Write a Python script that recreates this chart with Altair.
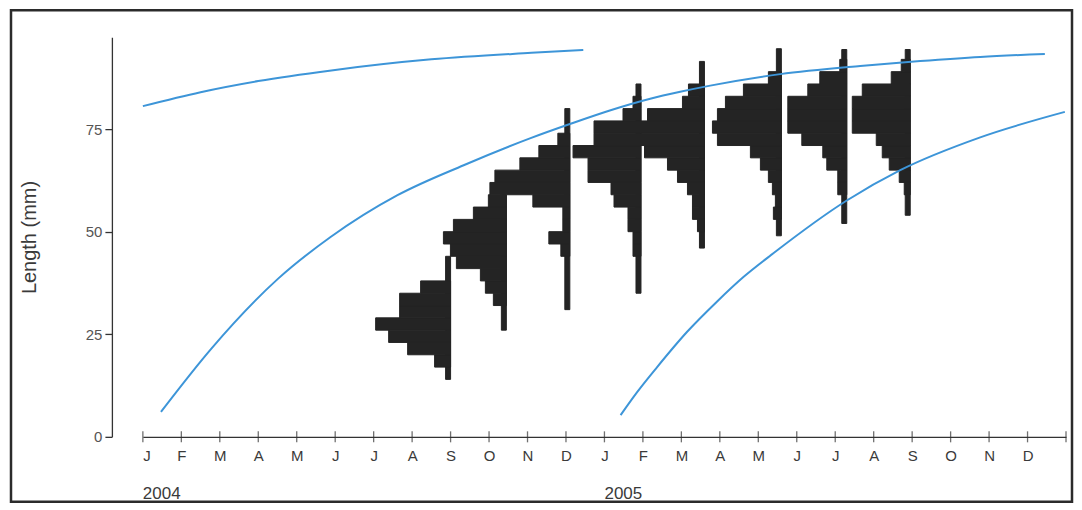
import altair as alt
import pandas as pd

# ---------------- data ----------------
month_labels = ["J", "F", "M", "A", "M", "J", "J", "A", "S", "O", "N", "D"] * 2
month_pos = list(range(24))          # months since Jan 2004
tick_pos = list(range(25))
years = ["2004", "2005"]
year_pos = [0, 12]

# growth curves (time in months since Jan 2004, length in mm)
c1_t = [0.0, 1.5, 3.0, 4.9, 7.5, 10.1, 11.45]
c1_L = [80.6, 84.0, 86.7, 89.3, 92.0, 93.6, 94.3]
c2_t = [0.47, 1.77, 3.51, 4.88, 6.62, 8.34, 10.08, 11.12, 12.16, 13.19, 13.97, 14.75, 16.57, 18.65, 20.21, 21.77, 23.45]
c2_L = [6.1, 21.4, 38.5, 48.7, 58.9, 66.2, 72.8, 76.3, 79.6, 82.4, 84.1, 85.6, 88.4, 90.4, 91.6, 92.6, 93.3]
c3_t = [12.42, 12.85, 13.37, 14.15, 14.93, 15.62, 16.40, 18.30, 19.69, 21.77, 23.97]
c3_L = [5.3, 10.9, 17.0, 25.6, 33.0, 39.0, 44.8, 57.6, 65.0, 73.0, 79.2]

# length-frequency samples
sample_t = [8.0, 9.45, 11.1, 12.95, 14.6, 16.6, 18.3, 19.95]
range_min = [14, 26, 31, 35, 46, 49, 52, 54]
range_max = [44, 59, 80, 86, 91.5, 94.6, 94.4, 94.4]
bin_lows = [
    [17, 20, 23, 26, 29, 32, 35],
    [32, 35, 38, 41, 44, 47, 50, 53, 56],
    [44, 47, 50, 53, 56, 59, 62, 65, 68, 71],
    [44, 47, 50, 53, 56, 59, 62, 65, 68, 71, 74, 77, 80],
    [50, 53, 56, 59, 62, 65, 68, 71, 74, 77, 80, 83],
    [53, 56, 59, 62, 65, 68, 71, 74, 77, 80, 83, 86],
    [59, 62, 65, 68, 71, 74, 77, 80, 83, 86, 89],
    [59, 62, 65, 68, 71, 74, 77, 80, 83, 86, 89],
]
freqs = [
    [16, 43, 62, 75, 51, 51, 30],
    [13, 21, 26, 50, 56, 63, 53, 33, 18],
    [9, 21, 7, 7, 37, 80, 75, 50, 31, 12],
    [8, 8, 13, 13, 27, 30, 53, 53, 68, 47, 47, 18, 8],
    [7, 12, 12, 17, 27, 37, 60, 64, 64, 57, 22, 16],
    [8, 6, 9, 13, 21, 31, 64, 69, 64, 56, 38, 13],
    [9, 9, 20, 24, 45, 59, 59, 59, 39, 27, 7],
    [6, 11, 21, 28, 34, 58, 58, 58, 48, 19, 9],
]
BIN = 3.0

# ---------------- tables ----------------
FREQ_SCALE = 1 / 38.5     # frequency units -> months on the time axis
LINE_W = 5 * FREQ_SCALE

rows = []
for t, lo_list, f_list, mn, mx in zip(sample_t, bin_lows, freqs, range_min, range_max):
    rows.append({"x": t - LINE_W, "x2": t, "y": mn, "y2": mx})
    for lo, f in zip(lo_list, f_list):
        rows.append({"x": t - f * FREQ_SCALE, "x2": t, "y": lo, "y2": lo + BIN})
hist_df = pd.DataFrame(rows)

curve_df = pd.concat([
    pd.DataFrame({"x": c1_t, "y": c1_L, "c": "1"}),
    pd.DataFrame({"x": c2_t, "y": c2_L, "c": "2"}),
    pd.DataFrame({"x": c3_t, "y": c3_L, "c": "3"}),
])
tick_df = pd.DataFrame({"x": tick_pos, "y": [0] * len(tick_pos)})
year_df = pd.DataFrame({"x": year_pos, "year": years})

X_SCALE = alt.Scale(domain=[0, 24], nice=False, zero=False)
Y_SCALE = alt.Scale(domain=[0, 97.4], nice=False)

label_expr = "[" + ",".join("'%s'" % m for m in month_labels) + "][datum.value]"
TEXT = "#3a3a3a"
FONT = "Liberation Sans Narrow, Liberation Sans, Arial"

frame = alt.Chart(alt.Data(values=[{}])).mark_rect(
    fill="transparent", stroke="#2b2b2b", strokeWidth=2.5
).encode(
    x=alt.value(-132), x2=alt.value(930), y=alt.value(-27), y2=alt.value(465)
)

bars = alt.Chart(hist_df).mark_rect(
    color="#242424", stroke="#242424", strokeWidth=1
).encode(
    x=alt.X("x:Q", scale=X_SCALE, title=None, axis=alt.Axis(
        values=month_pos, labelExpr=label_expr, ticks=False, grid=False, title=None,
        domainColor="#333333", domainWidth=1.3, labelPadding=12, labelFontSize=15,
        labelColor=TEXT, labelFont=FONT)),
    x2="x2:Q",
    y=alt.Y("y:Q", scale=Y_SCALE, title="Length (mm)", axis=alt.Axis(
        values=[0, 25, 50, 75], offset=31, tickSize=7, grid=False,
        title="Length (mm)", titleFontSize=20, titleFontWeight="normal",
        titleColor=TEXT, titleFont="Liberation Sans", titlePadding=46,
        labelFontSize=15, labelColor="#555555", labelFont="Liberation Sans", labelPadding=3,
        domainColor="#333333", tickColor="#333333", domainWidth=1.3, tickWidth=1.3)),
    y2="y2:Q",
)

ticks = alt.Chart(tick_df).mark_tick(
    orient="vertical", size=11, thickness=1.3, color="#333333"
).encode(
    x=alt.X("x:Q", scale=X_SCALE, title=None),
    y=alt.Y("y:Q", scale=Y_SCALE, title="Length (mm)"),
)

curves = alt.Chart(curve_df).mark_line(
    color="#3d95d8", strokeWidth=2, interpolate="monotone"
).encode(
    x=alt.X("x:Q", scale=X_SCALE, title=None),
    y=alt.Y("y:Q", scale=Y_SCALE, title="Length (mm)"),
    detail="c:N",
)

year_text = alt.Chart(year_df).mark_text(
    align="left", baseline="middle", fontSize=17, color=TEXT, font=FONT
).encode(
    x=alt.X("x:Q", scale=X_SCALE, title=None),
    y=alt.value(457),
    text="year:N",
)

chart = alt.layer(frame, bars, ticks, curves, year_text).properties(
    width=924, height=400,
    padding={"left": 1, "top": 0, "right": 0, "bottom": 0},
).configure_view(stroke="transparent")

chart.save("out.html", embed_options={"renderer": "svg", "actions": False})
